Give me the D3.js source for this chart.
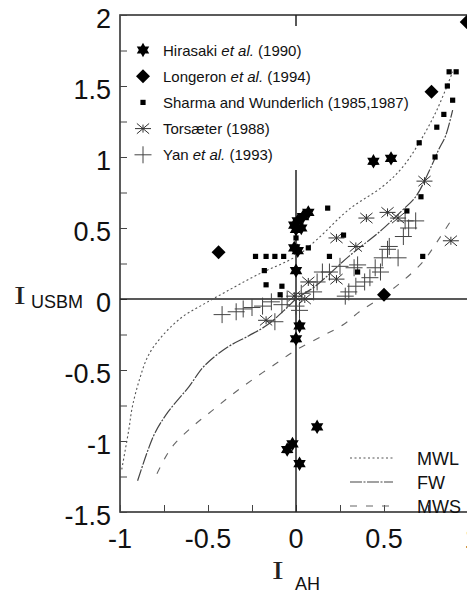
<!DOCTYPE html>
<html>
<head>
<meta charset="utf-8">
<script src="https://cdn.jsdelivr.net/npm/d3@7"></script>
<style>
  html, body { margin: 0; padding: 0; background: #fff; }
  svg { display: block; }
</style>
</head>
<body>
<svg id="chart" width="467" height="593"></svg>
<script>
// ---- Data: wettability indices, I_AH (x) vs I_USBM (y) ----
const hirasaki = [
  [0.44, 0.97], [0.54, 0.99], [0.07, 0.61], [0.04, 0.58], [0.01, 0.55],
  [-0.01, 0.52], [0.0, 0.49], [0.03, 0.5], [-0.01, 0.36], [0.01, 0.34],
  [0.0, 0.2], [0.02, -0.19], [0.0, -0.28], [0.12, -0.9], [-0.02, -1.02],
  [-0.05, -1.06], [0.02, -1.16]
];
const longeron = [[0.97, 1.95], [0.77, 1.46], [-0.44, 0.33], [0.5, 0.03]];
const sharma = [
  [0.87, 1.6], [0.91, 1.6], [0.86, 1.5], [0.89, 1.4], [0.84, 1.3], [0.8, 1.21],
  [0.7, 1.1], [0.79, 1.0], [0.71, 0.72], [0.63, 0.62], [0.18, 0.64], [0.27, 0.45],
  [0.19, 0.3], [0.35, 0.19], [0.72, 0.3], [-0.23, 0.3], [-0.17, 0.3], [-0.12, 0.3],
  [-0.07, 0.3], [-0.18, 0.2], [-0.17, 0.1], [-0.08, 0.09], [-0.09, 0.03],
  [0.07, 0.36], [0.0, 0.43]
];
const torsaeter = [
  [0.73, 0.83], [0.52, 0.61], [0.4, 0.57], [0.58, 0.57], [0.23, 0.43], [0.34, 0.37],
  [0.88, 0.41], [0.23, 0.14], [0.07, 0.12], [0.05, 0.0], [-0.17, -0.15], [-0.01, 0.02]
];
const yan = [
  [0.62, 0.55], [0.68, 0.55], [0.64, 0.5], [0.61, 0.44], [0.53, 0.37], [0.52, 0.35],
  [0.58, 0.29], [0.49, 0.29], [0.45, 0.22], [0.48, 0.19], [0.42, 0.15], [0.39, 0.12],
  [0.35, 0.24], [0.34, 0.09], [0.3, 0.05], [0.28, 0.02], [0.33, 0.22], [0.25, 0.23],
  [0.19, 0.19], [0.15, 0.19], [0.12, 0.12], [0.1, 0.05], [0.03, 0.04], [0.0, -0.05],
  [-0.05, 0.0], [-0.08, -0.04], [-0.14, -0.02], [-0.19, -0.05], [-0.25, -0.06],
  [-0.3, -0.07], [-0.34, -0.09], [-0.42, -0.11], [-0.12, -0.16], [0.02, -0.08]
];

// Model curves
const mwl = [
  [-0.99, -1.2], [-0.95, -0.92], [-0.93, -0.76], [-0.89, -0.57], [-0.84, -0.4],
  [-0.76, -0.26], [-0.65, -0.13], [-0.53, -0.04], [-0.4, 0.05], [-0.22, 0.17],
  [0.0, 0.3], [0.12, 0.42], [0.3, 0.63], [0.49, 0.79], [0.6, 0.92], [0.7, 1.1],
  [0.8, 1.33], [0.89, 1.6]
];
const fw = [
  [-0.9, -1.28], [-0.84, -1.06], [-0.8, -0.94], [-0.73, -0.8], [-0.61, -0.62],
  [-0.52, -0.47], [-0.39, -0.34], [-0.27, -0.26], [-0.16, -0.18], [-0.05, -0.06],
  [0.0, 0.0], [0.11, 0.09], [0.3, 0.3], [0.49, 0.49], [0.6, 0.62], [0.68, 0.72],
  [0.76, 0.91], [0.81, 1.05], [0.85, 1.15], [0.89, 1.33]
];
const mws = [
  [-0.79, -1.23], [-0.74, -1.11], [-0.69, -1.02], [-0.59, -0.9], [-0.48, -0.79],
  [-0.37, -0.68], [-0.25, -0.57], [-0.12, -0.46], [0.0, -0.36], [0.15, -0.26],
  [0.27, -0.18], [0.36, -0.09], [0.47, 0.0], [0.59, 0.11], [0.72, 0.26],
  [0.8, 0.4], [0.89, 0.57]
];

const xTicks = [-1, -0.75, -0.5, -0.25, 0, 0.25, 0.5, 0.75, 1];
const yTicks = [-1.5, -1.25, -1, -0.75, -0.5, -0.25, 0, 0.25, 0.5, 0.75, 1, 1.25, 1.5, 1.75, 2];
const xLabels = [-1, -0.5, 0, 0.5, 1];
const yLabels = [-1.5, -1, -0.5, 0, 0.5, 1, 1.5, 2];

const seriesNames = [
  { key: "star", label: ["Hirasaki ", "et al.", " (1990)"] },
  { key: "diamond", label: ["Longeron ", "et al.", " (1994)"] },
  { key: "square", label: ["Sharma and Wunderlich (1985,1987)"] },
  { key: "asterisk", label: ["Torsæter (1988)"] },
  { key: "cross", label: ["Yan ", "et al.", " (1993)"] }
];
const curveNames = ["MWL", "FW", "MWS"];

// ---- Layout ----
const svg = d3.select("#chart");
const x = d3.scaleLinear().domain([-1, 1]).range([120, 472]);
const y = d3.scaleLinear().domain([-1.5, 2]).range([512, 15]);
const sans = "'Liberation Sans', Arial, Helvetica, sans-serif";
const serif = "'Liberation Serif', 'Times New Roman', serif";

// frame
svg.append("rect")
  .attr("x", x(-1)).attr("y", y(2))
  .attr("width", x(1) - x(-1)).attr("height", y(-1.5) - y(2))
  .attr("fill", "none").attr("stroke", "#333").attr("stroke-width", 1.6);

// inward ticks on left and bottom
const left = d3.axisRight(y).tickValues(yTicks).tickSize(7).tickFormat("");
svg.append("g").attr("transform", `translate(${x(-1)},0)`).call(left)
  .call(g => g.select(".domain").remove())
  .selectAll("line").attr("stroke", "#444");
const bottom = d3.axisTop(x).tickValues(xTicks).tickSize(7).tickFormat("");
svg.append("g").attr("transform", `translate(0,${y(-1.5)})`).call(bottom)
  .call(g => g.select(".domain").remove())
  .selectAll("line").attr("stroke", "#444");

// tick labels
svg.append("g").selectAll("text").data(yLabels).join("text")
  .attr("x", x(-1) - 9).attr("y", d => y(d) + 13)
  .attr("text-anchor", "end")
  .attr("font-family", sans).attr("font-size", 27).attr("fill", "#111")
  .text(d => String(d));
svg.append("g").selectAll("text").data(xLabels).join("text")
  .attr("x", d => x(d)).attr("y", y(-1.5) + 36)
  .attr("text-anchor", "middle")
  .attr("font-family", sans).attr("font-size", 27).attr("fill", "#111")
  .text(d => String(d));

// zero lines
svg.append("line")
  .attr("x1", x(-1)).attr("x2", x(1)).attr("y1", y(0)).attr("y2", y(0))
  .attr("stroke", "#222").attr("stroke-width", 1.5);
svg.append("line")
  .attr("x1", x(0)).attr("x2", x(0)).attr("y1", y(2)).attr("y2", y(-1.5))
  .attr("stroke", "#222").attr("stroke-width", 1.5);

// legend background for the series list (hides the zero line behind it)
svg.append("rect")
  .attr("x", x(-1) + 8).attr("y", y(2) + 11)
  .attr("width", 284).attr("height", 144)
  .attr("fill", "#fff");

// model curves
const line = d3.line().x(d => x(d[0])).y(d => y(d[1])).curve(d3.curveCatmullRom);
const curveStyles = {
  MWL: { stroke: "#555", width: 1.1, dash: "2,2.5" },
  FW: { stroke: "#444", width: 1.2, dash: "12,1.5,2,1.5" },
  MWS: { stroke: "#666", width: 1.1, dash: "7,9" }
};
[[mwl, "MWL"], [fw, "FW"], [mws, "MWS"]].forEach(([pts, name]) => {
  const s = curveStyles[name];
  svg.append("path").datum(pts).attr("d", line)
    .attr("fill", "none").attr("stroke", s.stroke)
    .attr("stroke-width", s.width).attr("stroke-dasharray", s.dash);
});

// ---- Marker shapes ----
function starPath(r) {
  const pts = [];
  for (let i = 0; i < 12; i++) {
    const a = -Math.PI / 2 + i * Math.PI / 6;
    const rr = i % 2 === 0 ? r : r * 0.58;
    pts.push([rr * Math.cos(a), rr * Math.sin(a)]);
  }
  return "M" + pts.map(p => p.join(",")).join("L") + "Z";
}
function drawMarker(g, kind) {
  if (kind === "star") {
    g.append("path").attr("d", starPath(7.2)).attr("fill", "#000");
  } else if (kind === "diamond") {
    g.append("path").attr("d", "M0,-7L7,0L0,7L-7,0Z").attr("fill", "#000");
  } else if (kind === "square") {
    g.append("rect").attr("x", -2.6).attr("y", -2.6).attr("width", 5.2).attr("height", 5.2)
      .attr("fill", "#000");
  } else if (kind === "asterisk") {
    const r = 8;
    [0, 40, 140, 90].forEach((deg, i) => {
      const a = deg * Math.PI / 180;
      const rr = i === 3 ? 4 : r;
      g.append("line")
        .attr("x1", -rr * Math.cos(a)).attr("y1", -rr * Math.sin(a))
        .attr("x2", rr * Math.cos(a)).attr("y2", rr * Math.sin(a))
        .attr("stroke", "#333").attr("stroke-width", 1);
    });
  } else if (kind === "cross") {
    const r = 8.5;
    g.append("line").attr("x1", -r).attr("x2", r).attr("y1", 0).attr("y2", 0)
      .attr("stroke", "#444").attr("stroke-width", 1);
    g.append("line").attr("x1", 0).attr("x2", 0).attr("y1", -r).attr("y2", r)
      .attr("stroke", "#444").attr("stroke-width", 1);
  }
}
function drawSeries(data, kind) {
  const grp = svg.append("g");
  data.forEach(d => {
    const g = grp.append("g").attr("transform", `translate(${x(d[0])},${y(d[1])})`);
    drawMarker(g, kind);
  });
}
drawSeries(yan, "cross");
drawSeries(torsaeter, "asterisk");
drawSeries(sharma, "square");
drawSeries(longeron, "diamond");
drawSeries(hirasaki, "star");

// ---- Series legend ----
const leg = svg.append("g");
seriesNames.forEach((s, i) => {
  const cy = 50 + i * 26.2;
  const g = leg.append("g").attr("transform", `translate(${x(-1) + 23},${cy})`);
  drawMarker(g, s.key);
  const t = leg.append("text")
    .attr("x", x(-1) + 43).attr("y", cy + 5.5)
    .attr("font-family", sans).attr("font-size", 15).attr("fill", "#111");
  s.label.forEach(part => {
    t.append("tspan").attr("font-style", part === "et al." ? "italic" : "normal").text(part);
  });
});

// ---- Curve legend ----
curveNames.forEach((name, i) => {
  const cy = 458 + i * 24;
  const s = curveStyles[name];
  svg.append("line")
    .attr("x1", 350).attr("x2", 393).attr("y1", cy).attr("y2", cy)
    .attr("stroke", s.stroke).attr("stroke-width", s.width)
    .attr("stroke-dasharray", s.dash);
  svg.append("text")
    .attr("x", 417).attr("y", cy + 7)
    .attr("font-family", sans).attr("font-size", 18).attr("fill", "#111")
    .text(name);
});

// ---- Axis titles ----
function indexTitle(px, py, sub, subDx, subDy) {
  const g = svg.append("g").attr("transform", `translate(${px},${py})`);
  g.append("text")
    .attr("transform", "scale(1.35,1)")
    .attr("font-family", serif).attr("font-size", 26).attr("fill", "#222")
    .text("I");
  g.append("text")
    .attr("x", subDx).attr("y", subDy)
    .attr("font-family", sans).attr("font-size", 18).attr("fill", "#111")
    .text(sub);
}
indexTitle(14, 304, "USBM", 17, 4);
indexTitle(272, 579, "AH", 23, 11);
</script>
</body>
</html>
